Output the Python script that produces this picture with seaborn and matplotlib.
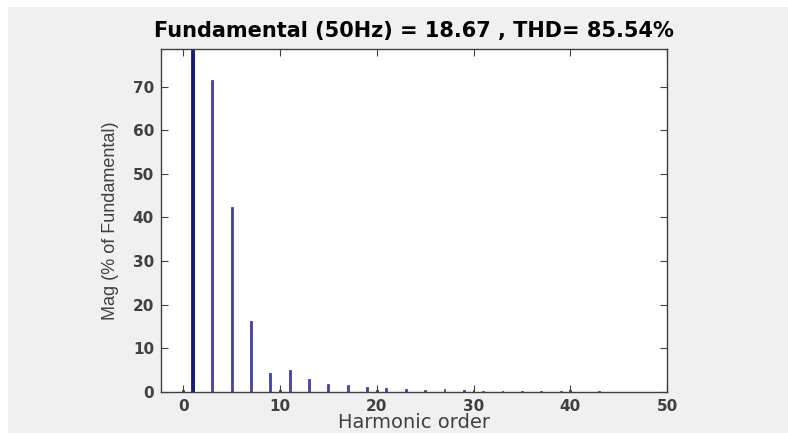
import pandas as pd
import seaborn as sns
import matplotlib.pyplot as plt
from matplotlib.patches import Rectangle

# ------------------------------DATOS------------------------------
orden = [0, 1, 3, 5, 7, 9, 10, 11, 13, 15, 17, 19, 20, 21, 23, 25, 27, 29, 30,
         31, 33, 35, 37, 39, 40, 43]
magnitud = [0.4, 100, 71.4, 42.3, 16.2, 4.3, 0.4, 5.0, 2.9, 1.9, 1.6, 1.1, 0.4,
            0.85, 0.8, 0.5, 0.6, 0.55, 0.35, 0.3, 0.25, 0.25, 0.25, 0.25, 0.4, 0.3]
tipo = ["par" if (h % 2 == 0) else "impar" for h in orden]

titulo = "Fundamental (50Hz) = 18.67 , THD= 85.54%"
xticks = [0, 10, 20, 30, 40, 50]
yticks = [0, 10, 20, 30, 40, 50, 60, 70]

df = pd.DataFrame({"orden": orden, "mag": magnitud, "tipo": tipo})
df_fund = df[df["orden"] == 1]

# ------------------------------ESTILO------------------------------
sns.set_style("ticks")
plt.rcParams["font.family"] = ["DejaVu Sans"]

gris_fondo = "#f0f0f0"
gris_texto = "#404040"
colores = {"impar": "#3535b0", "par": "#404058"}

fig = plt.figure(figsize=(7.88, 4.33), dpi=100, facecolor="white")
# fondo gris con franja blanca arriba y a la izquierda
fig.patches.append(Rectangle((8 / 788, 0), 1, 1 - 7 / 433, transform=fig.transFigure,
                             facecolor=gris_fondo, edgecolor="none", zorder=-10))

ax = fig.add_axes([161 / 788, 1 - 392 / 433, (667 - 161) / 788, (392 - 49) / 433])
ax.set_facecolor("white")

# Barras de los armónicos
sns.barplot(data=df, x="orden", y="mag", hue="tipo", palette=colores,
            native_scale=True, width=0.2, dodge=False, errorbar=None,
            legend=False, orient="v", ax=ax)
# Fundamental más gruesa y oscura
sns.barplot(data=df_fund, x="orden", y="mag", color="#0a0a88",
            native_scale=True, width=0.3, errorbar=None, orient="v", ax=ax)

# borde del mismo color para que las barras finas se vean sólidas
for p in ax.patches:
    p.set_edgecolor(p.get_facecolor())
    p.set_linewidth(0.6)

ax.set_xlim(-2.3, 50)
ax.set_ylim(0, 78.6)
ax.set_xticks(xticks)
ax.set_yticks(yticks)
ax.tick_params(direction="in", length=5, width=0.8, top=True, right=True,
               labelsize=11, labelcolor=gris_texto, color=gris_texto, pad=5)
for lab in ax.get_xticklabels() + ax.get_yticklabels():
    lab.set_fontweight("bold")
for s in ax.spines.values():
    s.set_visible(True)
    s.set_color(gris_texto)
    s.set_linewidth(1.0)

ax.set_title(titulo, fontsize=15, fontweight="bold", color="black", pad=9)
ax.set_xlabel("Harmonic order", fontsize=14, color=gris_texto, labelpad=-1)
ax.set_ylabel("Mag (% of Fundamental)", fontsize=13, color=gris_texto, labelpad=10,
              family="Liberation Sans")

fig.savefig("out.png", dpi=100, facecolor=fig.get_facecolor())
